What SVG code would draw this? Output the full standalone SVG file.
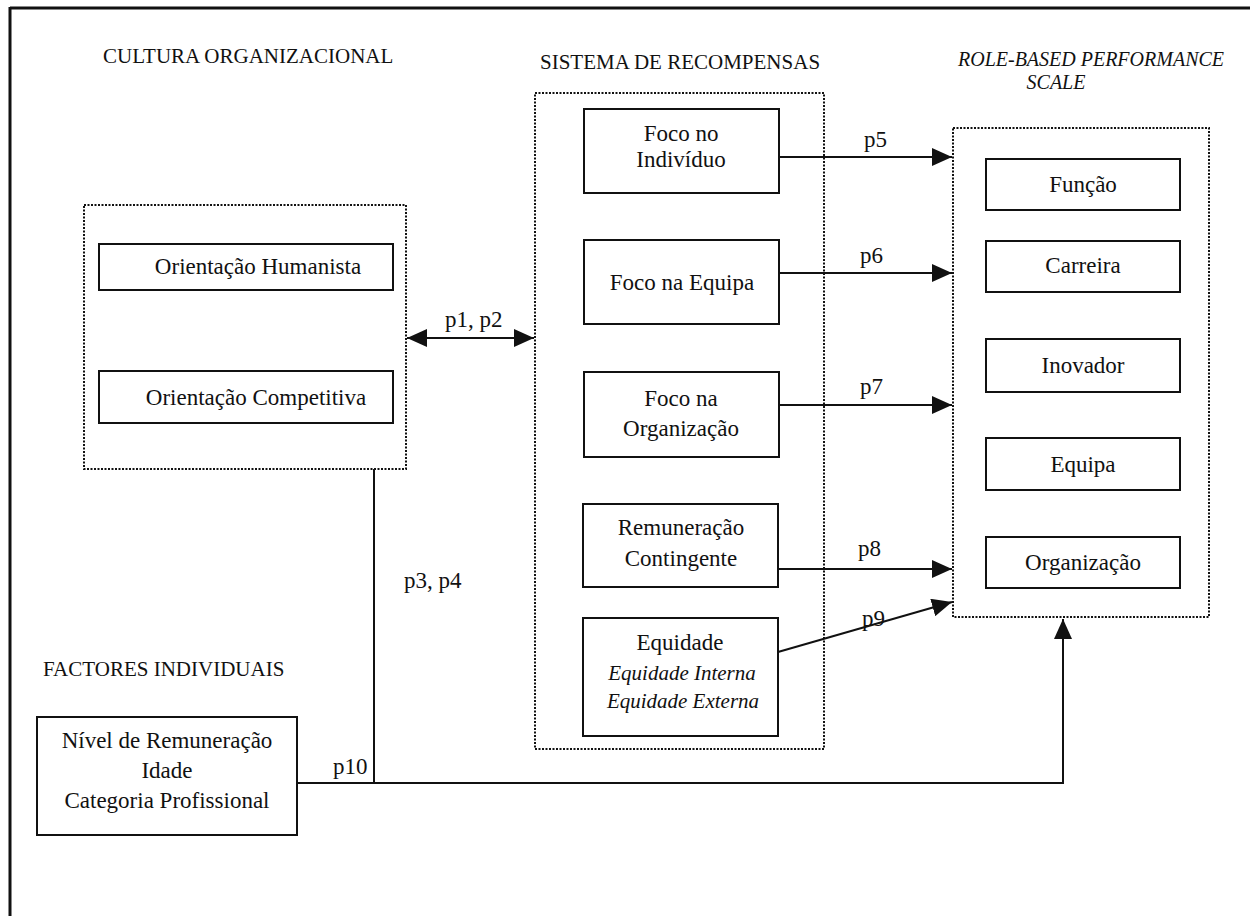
<svg xmlns="http://www.w3.org/2000/svg" width="1250" height="916" viewBox="0 0 1250 916" font-family="'Liberation Serif', 'DejaVu Serif', serif">
<style>
text{font-family:"Liberation Serif","DejaVu Serif",serif;fill:#111}
.h{font-size:21px}
.b{font-size:23px;text-anchor:middle}
.i{font-size:21px;font-style:italic;text-anchor:middle}
.hi{font-size:20px;font-style:italic;text-anchor:middle}
.lbl{font-size:23px}
.dot{fill:none;stroke:#111;stroke-width:2;stroke-dasharray:2 1.5}
.box{fill:#fff;stroke:#111;stroke-width:2}
.ln{fill:none;stroke:#111;stroke-width:2}
</style>
<defs>
<marker id="ah" markerUnits="userSpaceOnUse" markerWidth="20" markerHeight="18" refX="20" refY="9" orient="auto-start-reverse">
<path d="M0,0 L20,9 L0,18 z" fill="#111"/>
</marker>
</defs>
<rect width="1250" height="916" fill="#fff"/>
<g id="frame">
<line x1="10" y1="8" x2="1250" y2="8" stroke="#111" stroke-width="3"/>
<line x1="10" y1="7" x2="10" y2="916" stroke="#111" stroke-width="3"/>
</g>
<g id="titles" font-family="'Liberation Serif', serif">
<text class="h" x="103" y="63">CULTURA ORGANIZACIONAL</text>
<text class="h" x="540" y="69">SISTEMA DE RECOMPENSAS</text>
<text class="h" x="43" y="676">FACTORES INDIVIDUAIS</text>
<text class="hi" x="1091" y="66">ROLE-BASED PERFORMANCE</text>
<text class="hi" x="1056" y="89">SCALE</text>
</g>
<g id="cultura" font-family="'Liberation Serif', serif">
<rect class="dot" x="84" y="205" width="322" height="264"/>
<g id="humanista"><rect class="box" x="99" y="244" width="294" height="46"/><text class="b" x="258" y="274">Orientação Humanista</text></g>
<g id="competitiva"><rect class="box" x="99" y="371" width="294" height="52"/><text class="b" x="256" y="405">Orientação Competitiva</text></g>
</g>
<g id="sistema" font-family="'Liberation Serif', serif">
<rect class="dot" x="535" y="93" width="289" height="656"/>
<g id="individuo"><rect class="box" x="584" y="109" width="195" height="84"/><text class="b" x="681" y="141">Foco no</text><text class="b" x="681" y="167">Indivíduo</text></g>
<g id="equipa"><rect class="box" x="584" y="240" width="195" height="84"/><text class="b" x="682" y="290">Foco na Equipa</text></g>
<g id="organizacao"><rect class="box" x="584" y="372" width="195" height="85"/><text class="b" x="681" y="406">Foco na</text><text class="b" x="681" y="436">Organização</text></g>
<g id="contingente"><rect class="box" x="583" y="504" width="195" height="83"/><text class="b" x="681" y="535">Remuneração</text><text class="b" x="681" y="566">Contingente</text></g>
<g id="equidade"><rect class="box" x="583" y="618" width="195" height="118"/><text class="b" x="680" y="650">Equidade</text><text class="i" x="682" y="680">Equidade Interna</text><text class="i" x="683" y="708">Equidade Externa</text></g>
</g>
<g id="rbps" font-family="'Liberation Serif', serif">
<rect class="dot" x="953" y="128" width="256" height="489"/>
<g id="funcao"><rect class="box" x="986" y="159" width="194" height="51"/><text class="b" x="1083" y="192">Função</text></g>
<g id="carreira"><rect class="box" x="986" y="241" width="194" height="51"/><text class="b" x="1083" y="273">Carreira</text></g>
<g id="inovador"><rect class="box" x="986" y="339" width="194" height="53"/><text class="b" x="1083" y="373">Inovador</text></g>
<g id="equipa2"><rect class="box" x="986" y="438" width="194" height="52"/><text class="b" x="1083" y="472">Equipa</text></g>
<g id="organizacao2"><rect class="box" x="986" y="537" width="194" height="51"/><text class="b" x="1083" y="570">Organização</text></g>
</g>
<g id="factores" font-family="'Liberation Serif', serif">
<rect class="box" x="37" y="717" width="260" height="118"/>
<text class="b" x="167" y="748">Nível de Remuneração</text>
<text class="b" x="167" y="778">Idade</text>
<text class="b" x="167" y="808">Categoria Profissional</text>
</g>
<g id="connectors" font-family="'Liberation Serif', serif">
<line class="ln" x1="407" y1="338" x2="534" y2="338" marker-start="url(#ah)" marker-end="url(#ah)"/>
<line class="ln" x1="374" y1="469" x2="374" y2="783"/>
<polyline class="ln" points="297,783 1063,783 1063,619" marker-end="url(#ah)"/>
<line class="ln" x1="779" y1="157" x2="952" y2="157" marker-end="url(#ah)"/>
<line class="ln" x1="779" y1="273" x2="952" y2="273" marker-end="url(#ah)"/>
<line class="ln" x1="779" y1="405" x2="952" y2="405" marker-end="url(#ah)"/>
<line class="ln" x1="778" y1="569" x2="952" y2="569" marker-end="url(#ah)"/>
<line class="ln" x1="778" y1="652" x2="952" y2="602" marker-end="url(#ah)"/>
<text class="lbl" x="445" y="327">p1, p2</text>
<text class="lbl" x="404" y="588">p3, p4</text>
<text class="lbl" x="864" y="147">p5</text>
<text class="lbl" x="860" y="263">p6</text>
<text class="lbl" x="860" y="394">p7</text>
<text class="lbl" x="858" y="556">p8</text>
<text class="lbl" x="862" y="626">p9</text>
<text class="lbl" x="333" y="774">p10</text>
</g>
</svg>
